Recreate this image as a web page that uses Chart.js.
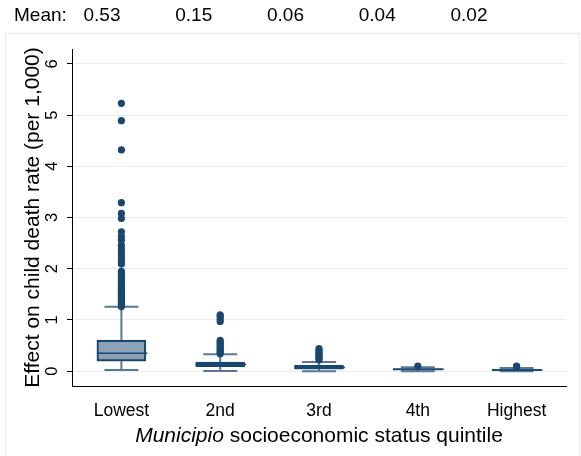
<!DOCTYPE html>
<html>
<head>
<meta charset="utf-8">
<script src="https://cdn.jsdelivr.net/npm/chart.js@4/dist/chart.umd.min.js"></script>
<style>
  html, body { margin: 0; padding: 0; background: #fff; }
  canvas { display: block; }
</style>
</head>
<body>
<canvas id="boxChart" width="581" height="456"></canvas>
<script>
// Data
const categories = ['Lowest', '2nd', '3rd', '4th', 'Highest'];
const means = [0.53, 0.15, 0.06, 0.04, 0.02];
const lowerWhisker = [0.02, 0.005, 0.0, 0.0, 0.0];
const q1 = [0.195, 0.085, 0.04, 0.02, 0.01];
const medians = [0.35, 0.13, 0.07, 0.035, 0.02];
const q3 = [0.605, 0.175, 0.115, 0.05, 0.035];
const upperWhisker = [1.256, 0.33, 0.18, 0.075, 0.06];
const outliersLowest = [1.26, 1.29, 1.32, 1.35, 1.38, 1.41, 1.44, 1.47, 1.5, 1.53, 1.56, 1.6, 1.63, 1.67, 1.7, 1.74, 1.78, 1.82, 1.86, 1.9, 1.95,
  2.09, 2.14, 2.2, 2.27, 2.33, 2.39, 2.46, 2.56, 2.63, 2.72, 2.98, 3.08, 3.29, 4.32, 4.89, 5.23];
const outliers2nd = [0.34, 0.37, 0.4, 0.43, 0.46, 0.5, 0.53, 0.57, 0.6, 0.97, 1.02, 1.07, 1.1];
const outliers3rd = [0.22, 0.25, 0.28, 0.31, 0.34, 0.37, 0.4, 0.44];
const outliers4th = [0.1];
const outliersHighest = [0.08, 0.1];
const yTicks = [0, 1, 2, 3, 4, 5, 6];
const yTitle = 'Effect on child death rate (per 1,000)';

const navy = '#1a476f';
const whiskerColor = '#5a7896';
const fontFamily = '"Liberation Sans", Arial, Helvetica, sans-serif';

const outlierPoints = [];
[outliersLowest, outliers2nd, outliers3rd, outliers4th, outliersHighest].forEach((list, i) => {
  list.forEach(v => outlierPoints.push({ x: categories[i], y: v }));
});

// frame, whiskers, medians, rotated y labels, header and x title
const boxExtras = {
  id: 'boxExtras',
  beforeDraw(chart) {
    const ctx = chart.ctx;
    ctx.save();
    ctx.strokeStyle = '#e4ecee';
    ctx.lineWidth = 1;
    ctx.strokeRect(5.5, 33.5, 574, 440);
    ctx.restore();
  },
  beforeDatasetsDraw(chart) {
    const { ctx, scales: { x, y } } = chart;
    ctx.save();
    ctx.strokeStyle = whiskerColor;
    ctx.lineWidth = 2;
    categories.forEach((c, i) => {
      const cx = x.getPixelForValue(i);
      ctx.beginPath();
      ctx.moveTo(cx, y.getPixelForValue(q3[i]));
      ctx.lineTo(cx, y.getPixelForValue(upperWhisker[i]));
      ctx.moveTo(cx, y.getPixelForValue(q1[i]));
      ctx.lineTo(cx, y.getPixelForValue(lowerWhisker[i]));
      ctx.moveTo(cx - 17, y.getPixelForValue(upperWhisker[i]));
      ctx.lineTo(cx + 17, y.getPixelForValue(upperWhisker[i]));
      ctx.moveTo(cx - 17, y.getPixelForValue(lowerWhisker[i]));
      ctx.lineTo(cx + 17, y.getPixelForValue(lowerWhisker[i]));
      ctx.stroke();
    });
    ctx.restore();
  },
  afterDatasetsDraw(chart) {
    const { ctx, scales: { x, y } } = chart;
    ctx.save();
    ctx.strokeStyle = navy;
    ctx.lineWidth = 1.5;
    categories.forEach((c, i) => {
      const cx = x.getPixelForValue(i);
      const my = y.getPixelForValue(medians[i]);
      ctx.beginPath();
      ctx.moveTo(cx - 24.5, my);
      ctx.lineTo(cx + 26, my);
      ctx.stroke();
    });
    ctx.restore();
  },
  afterDraw(chart) {
    const { ctx, chartArea, scales: { y } } = chart;
    ctx.save();
    ctx.fillStyle = '#000';

    // rotated y tick labels
    ctx.font = '16.5px ' + fontFamily;
    ctx.textAlign = 'center';
    ctx.textBaseline = 'alphabetic';
    yTicks.forEach(v => {
      ctx.save();
      ctx.translate(57, y.getPixelForValue(v));
      ctx.rotate(-Math.PI / 2);
      ctx.fillText(String(v), 0, 0);
      ctx.restore();
    });

    // rotated y title
    ctx.save();
    ctx.font = '21px ' + fontFamily;
    ctx.translate(39, (chartArea.top + chartArea.bottom) / 2);
    ctx.rotate(-Math.PI / 2);
    ctx.fillText(yTitle, 0, 0);
    ctx.restore();

    // mean row
    ctx.textBaseline = 'middle';
    ctx.font = '19px ' + fontFamily;
    ctx.textAlign = 'left';
    ctx.fillText('Mean:', 14, 16);
    ctx.textAlign = 'center';
    means.forEach((m, i) => ctx.fillText(m.toFixed(2), 102 + i * 91.75, 16));

    // x axis title with italic first word
    const italicPart = 'Municipio';
    const plainPart = ' socioeconomic status quintile';
    const italicFont = 'italic 21px ' + fontFamily;
    const plainFont = '21px ' + fontFamily;
    ctx.font = italicFont;
    const w1 = ctx.measureText(italicPart).width;
    ctx.font = plainFont;
    const w2 = ctx.measureText(plainPart).width;
    const startX = (chartArea.left + chartArea.right) / 2 - (w1 + w2) / 2;
    ctx.textAlign = 'left';
    ctx.font = italicFont;
    ctx.fillText(italicPart, startX, 436);
    ctx.font = plainFont;
    ctx.fillText(plainPart, startX + w1, 436);
    ctx.restore();
  }
};

const ctx = document.getElementById('boxChart').getContext('2d');
new Chart(ctx, {
  data: {
    labels: categories,
    datasets: [
      {
        type: 'scatter',
        data: outlierPoints,
        backgroundColor: navy,
        borderColor: navy,
        pointRadius: 3.6,
        pointBorderWidth: 0,
        order: 0
      },
      {
        type: 'bar',
        data: categories.map((c, i) => [q1[i], q3[i]]),
        backgroundColor: 'rgba(26, 71, 111, 0.5)',
        borderColor: navy,
        borderWidth: 1.5,
        borderSkipped: false,
        barThickness: 49,
        order: 1
      }
    ]
  },
  options: {
    responsive: false,
    animation: false,
    layout: { padding: { top: 49, right: 15, left: 0, bottom: 0 } },
    plugins: {
      legend: { display: false },
      tooltip: { enabled: false }
    },
    scales: {
      x: {
        type: 'category',
        offset: true,
        grid: { display: false, drawTicks: false },
        border: { display: true, color: '#000', width: 1 },
        ticks: {
          color: '#000',
          padding: 15,
          font: { family: fontFamily, size: 17.5 }
        },
        afterFit(scale) { scale.height = 70; }
      },
      y: {
        min: -0.29,
        max: 6.29,
        afterBuildTicks(axis) { axis.ticks = yTicks.map(v => ({ value: v })); },
        grid: { color: '#e6eef0', lineWidth: 1, tickLength: 5, tickColor: '#000' },
        border: { display: true, color: '#000', width: 1 },
        ticks: { display: false },
        afterFit(scale) { scale.width = 72; }
      }
    }
  },
  plugins: [boxExtras]
});
</script>
</body>
</html>
